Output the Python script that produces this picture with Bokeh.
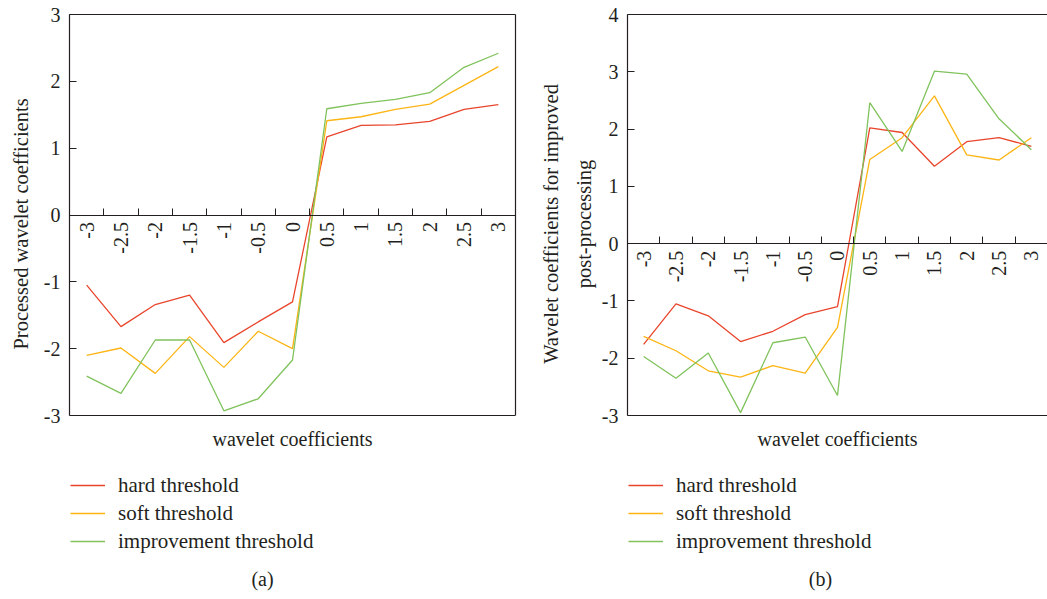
import math

from bokeh.embed import file_html
from bokeh.layouts import row
from bokeh.models import (FixedTicker, Label, Legend, LegendItem, LinearAxis,
                          Range1d, Span)
from bokeh.plotting import figure
from bokeh.resources import INLINE

# Wavelet coefficient categories along the x axis
x_labels = ["-3", "-2.5", "-2", "-1.5", "-1", "-0.5", "0",
            "0.5", "1", "1.5", "2", "2.5", "3"]

# (a) processed wavelet coefficients
hard_a = [-1.05, -1.67, -1.34, -1.20, -1.91, -1.60, -1.30,
          1.17, 1.34, 1.35, 1.40, 1.58, 1.65]
soft_a = [-2.10, -1.99, -2.37, -1.82, -2.28, -1.74, -2.00,
          1.41, 1.47, 1.58, 1.66, 1.94, 2.22]
improved_a = [-2.41, -2.67, -1.87, -1.87, -2.93, -2.75, -2.17,
              1.59, 1.67, 1.73, 1.83, 2.21, 2.42]

# (b) wavelet coefficients after improved post-processing
hard_b = [-1.76, -1.05, -1.26, -1.71, -1.53, -1.24, -1.10,
          2.02, 1.94, 1.35, 1.78, 1.85, 1.70]
soft_b = [-1.62, -1.87, -2.22, -2.33, -2.13, -2.26, -1.46,
          1.47, 1.85, 2.58, 1.55, 1.46, 1.85]
improved_b = [-1.97, -2.35, -1.91, -2.95, -1.73, -1.63, -2.65,
              2.46, 1.61, 3.01, 2.96, 2.18, 1.64]

y_ticks_a = [-3, -2, -1, 0, 1, 2, 3]
y_ticks_b = [-3, -2, -1, 0, 1, 2, 3, 4]

series_names = ["hard threshold", "soft threshold", "improvement threshold"]
series_colors = ["#E8452C", "#FDB515", "#80C25C"]

FONT = "Liberation Serif"
INK = "#231f20"

# page geometry (pixels)
HEIGHT = 599
BOX_TOP = 14       # top edge of the plotting box
BOX_H = 401        # height of the plotting box
BELOW_H = HEIGHT - BOX_TOP - BOX_H   # room under the box for titles and legend

x_values = [float(s) for s in x_labels]
half_step = (x_values[1] - x_values[0]) / 2
cell_edges = [(a + b) / 2 for a, b in zip(x_values, x_values[1:])]


def no_ticks(axis):
    axis.major_tick_in = 0
    axis.major_tick_out = 0
    axis.minor_tick_in = 0
    axis.minor_tick_out = 0


def title_strip(width, center_x, text):
    """Narrow strip holding a vertical axis title centred on the box."""
    s = figure(width=width, height=HEIGHT,
               x_range=Range1d(0, width), y_range=Range1d(0, HEIGHT),
               x_axis_location=None, y_axis_location=None,
               toolbar_location=None, output_backend="svg",
               min_border=0)
    s.grid.visible = False
    s.outline_line_color = None
    s.add_layout(Label(x=center_x, y=HEIGHT - BOX_TOP - BOX_H / 2,
                       angle=math.pi / 2, text=text, text_align="center",
                       text_baseline="middle", text_font=FONT,
                       text_font_size="20.5px", text_line_height=1.46,
                       text_color=INK))
    return s


def make_panel(width, border_left, border_right, y_ticks, series, caption,
               closed_box):
    y_top, y_bottom = y_ticks[-1], y_ticks[0]
    per_px = (y_top - y_bottom) / BOX_H
    # the frame reaches the bottom of the page; the box itself ends at y_bottom
    frame_bottom = y_bottom - BELOW_H * per_px
    x_lo, x_hi = x_values[0] - half_step, x_values[-1] + half_step

    p = figure(width=width, height=HEIGHT,
               x_range=Range1d(x_lo, x_hi), y_range=Range1d(frame_bottom, y_top),
               x_axis_location=None, y_axis_location=None,
               toolbar_location=None, output_backend="svg",
               min_border_left=border_left, min_border_right=border_right,
               min_border_top=BOX_TOP, min_border_bottom=0)
    p.grid.visible = False
    p.outline_line_color = None
    p.background_fill_color = "white"
    p.border_fill_color = "white"

    # vertical value axis
    yaxis = LinearAxis(ticker=FixedTicker(ticks=y_ticks), bounds=(y_bottom, y_top),
                       major_label_overrides={t: str(t) for t in y_ticks})
    no_ticks(yaxis)
    yaxis.major_tick_in = 7
    yaxis.major_label_standoff = 9
    yaxis.major_label_text_font = FONT
    yaxis.major_label_text_font_size = "20px"
    yaxis.major_label_text_color = INK
    yaxis.axis_line_color = INK
    yaxis.axis_line_width = 1.2
    yaxis.major_tick_line_color = INK
    p.add_layout(yaxis, "left")

    # top edge of the box
    top = LinearAxis(ticker=FixedTicker(ticks=[]))
    no_ticks(top)
    top.major_label_standoff = 0
    top.axis_line_color = INK
    top.axis_line_width = 1.2
    p.add_layout(top, "above")

    if closed_box:
        side = LinearAxis(ticker=FixedTicker(ticks=[]), bounds=(y_bottom, y_top))
        no_ticks(side)
        side.major_label_standoff = 0
        side.axis_line_color = INK
        side.axis_line_width = 1.2
        p.add_layout(side, "right")

    # bottom edge of the box
    p.add_layout(Span(location=y_bottom, dimension="width",
                      line_color=INK, line_width=1.2))

    # zero line with tick marks on the cell boundaries
    zero_axis = LinearAxis(fixed_location=0, ticker=FixedTicker(ticks=cell_edges),
                           major_label_overrides={e: "" for e in cell_edges})
    no_ticks(zero_axis)
    zero_axis.major_tick_in = 7
    zero_axis.axis_line_color = INK
    zero_axis.axis_line_width = 1.2
    zero_axis.major_tick_line_color = INK
    p.add_layout(zero_axis, "below")

    # category names under the zero line
    name_axis = LinearAxis(fixed_location=0, ticker=FixedTicker(ticks=x_values),
                           major_label_overrides=dict(zip(x_values, x_labels)))
    no_ticks(name_axis)
    name_axis.axis_line_color = None
    name_axis.major_label_orientation = math.pi / 2
    name_axis.major_label_standoff = 7
    name_axis.major_label_text_font = FONT
    name_axis.major_label_text_font_size = "20px"
    name_axis.major_label_text_color = INK
    p.add_layout(name_axis, "below")

    items = []
    for name, color, ys in zip(series_names, series_colors, series):
        r = p.line(x_values, ys, line_color=color, line_width=1.3)
        items.append(LegendItem(label=name, renderers=[r]))

    # x axis title under the box
    p.add_layout(Label(x=(x_lo + x_hi) / 2, y=y_bottom, y_offset=-23,
                       text="wavelet coefficients", text_align="center",
                       text_baseline="middle", text_font=FONT,
                       text_font_size="20px", text_color=INK))

    legend = Legend(items=items, location=(1, 44))
    legend.border_line_color = None
    legend.background_fill_alpha = 0
    legend.margin = 0
    legend.padding = 0
    legend.glyph_width = 35
    legend.glyph_height = 28
    legend.label_height = 28
    legend.spacing = 0
    legend.label_standoff = 13
    legend.label_text_font = FONT
    legend.label_text_font_size = "21px"
    legend.label_text_color = INK
    p.add_layout(legend)

    # panel caption
    p.add_layout(Label(x=x_lo, y=y_bottom, x_offset=193, y_offset=-163,
                       text=caption, text_align="center", text_baseline="middle",
                       text_font=FONT, text_font_size="20px", text_color=INK))
    return p


title_a = title_strip(36, 20, "Processed wavelet coefficients")
left = make_panel(494, 33, 15, y_ticks_a, [hard_a, soft_a, improved_a], "(a)", True)
title_b = title_strip(67, 37, "Wavelet coefficients for improved\npost-processing")
right = make_panel(450, 30, 0, y_ticks_b, [hard_b, soft_b, improved_b], "(b)", False)

layout = row(title_a, left, title_b, right)
open("out.html", "w").write(file_html(layout, INLINE))
